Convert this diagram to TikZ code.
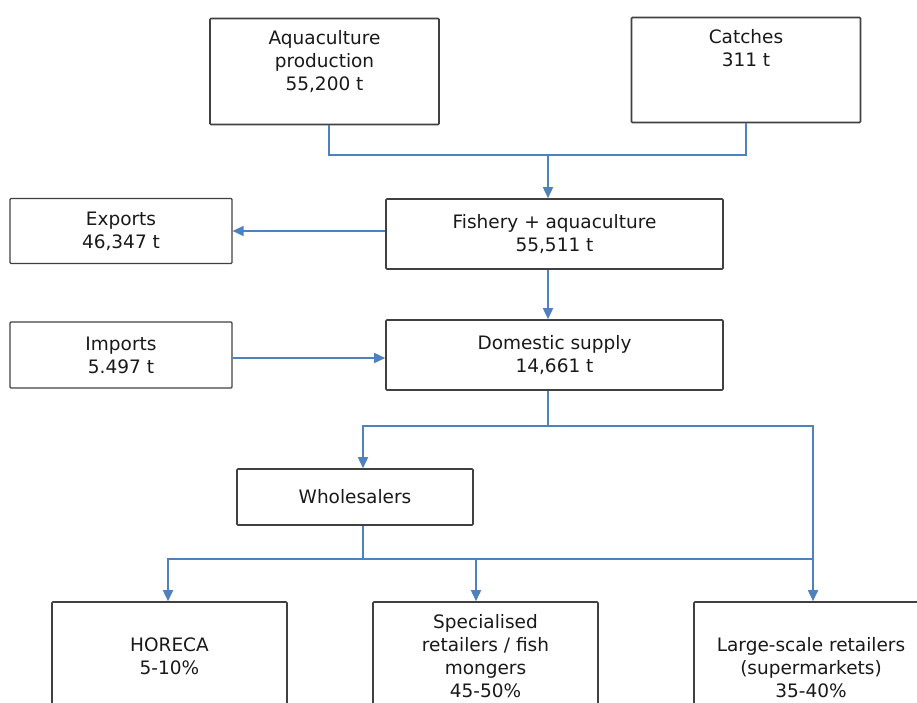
\documentclass[tikz,border=0pt]{standalone}
\usepackage{fontspec}
\setmainfont{DejaVu Sans}
\usetikzlibrary{arrows.meta,positioning}

\definecolor{flowblue}{RGB}{79,129,189}
\definecolor{boxgray}{RGB}{64,64,64}

\begin{document}
\begin{tikzpicture}[x=1pt, y=-1pt,
		box/.style={draw=boxgray, line width=1.6pt, rounded corners=1pt, inner sep=0pt},
		txt/.style={align=center, inner sep=0pt, text=black!90, font=\fontsize{18.5}{23}\selectfont},
		link/.style={draw=flowblue, line width=1.6pt},
		arrow/.style={link, -{Triangle[length=11pt,width=10pt]}}]
			%%%%% START %%%%%
			
			\useasboundingbox (0,0) rectangle (917,702);
			\clip (0,0) rectangle (917,702);
			
			% sources
			\node[box, minimum width=229pt, minimum height=106pt] (aqua) at (324.5,71.5) {};
			\node[txt, below=13pt of aqua.north] (aquatxt) {Aquaculture\\production\\55,200 t};
			\node[box, minimum width=229pt, minimum height=105pt] (catch) at (746,70) {};
			\node[txt, below=13pt of catch.north] (catchtxt) {Catches\\311 t};
			
			% totals
			\node[box, txt, minimum width=337pt, minimum height=70pt] (fish) at (554.5,234) {Fishery + aquaculture\\55,511 t};
			\node[box, txt, line width=1.2pt, minimum width=222pt, minimum height=65pt] (exp) at (121,231) {Exports\\46,347 t};
			\node[box, txt, minimum width=337pt, minimum height=70pt] (dom) at (554.5,355) {Domestic supply\\14,661 t};
			\node[box, txt, line width=1.2pt, minimum width=222pt, minimum height=66pt] (imp) at (121,355) {Imports\\5.497 t};
			
			% channels
			\node[box, txt, minimum width=236pt, minimum height=56pt] (whole) at (355,497) {Wholesalers};
			\node[box, minimum width=235pt, minimum height=140pt] (horeca) at (169.5,672) {};
			\node[txt, below=36pt of horeca.north] (horecatxt) {HORECA\\5-10\%};
			\node[box, minimum width=225pt, minimum height=140pt] (spec) at (485.5,672) {};
			\node[txt, below=13pt of spec.north] (spectxt) {Specialised\\retailers / fish\\mongers\\45-50\%};
			\node[box, minimum width=234pt, minimum height=140pt] (large) at (811,672) {};
			\node[txt, below=36pt of large.north] (largetxt) {Large-scale retailers\\(supermarkets)\\35-40\%};
			
			% connectors
			\coordinate (j1) at (548,155);
			\coordinate (j2) at (548,426);
			\coordinate (j3) at (363,559);
			\coordinate (r) at (813,426);
			
			\draw[link] ([xshift=4.5pt]aqua.south) |- (j1) -| (catch.south);
			\draw[arrow] (j1) -- (j1 |- fish.north);
			\draw[arrow] (fish.west |- exp.east) -- (exp.east);
			\draw[arrow] (j1 |- fish.south) -- (j1 |- dom.north);
			\draw[arrow] ([yshift=-3pt]imp.east) -- ([yshift=-3pt]imp.east -| dom.west);
			\draw[link] (j1 |- dom.south) -- (j2);
			\draw[arrow] (j2) -| (j3 |- whole.north);
			\draw[arrow] (j2) -- (r) -- (r |- large.north);
			\draw[link] (j3 |- whole.south) -- (j3);
			\draw[arrow] (j3) -| ([xshift=-1.5pt]horeca.north);
			\draw[arrow] (j3) -| ([xshift=-9.5pt]spec.north);
			\draw[link] (j3) -- (j3 -| r);
			
			%%%%% END %%%%%
\end{tikzpicture}
\end{document}
